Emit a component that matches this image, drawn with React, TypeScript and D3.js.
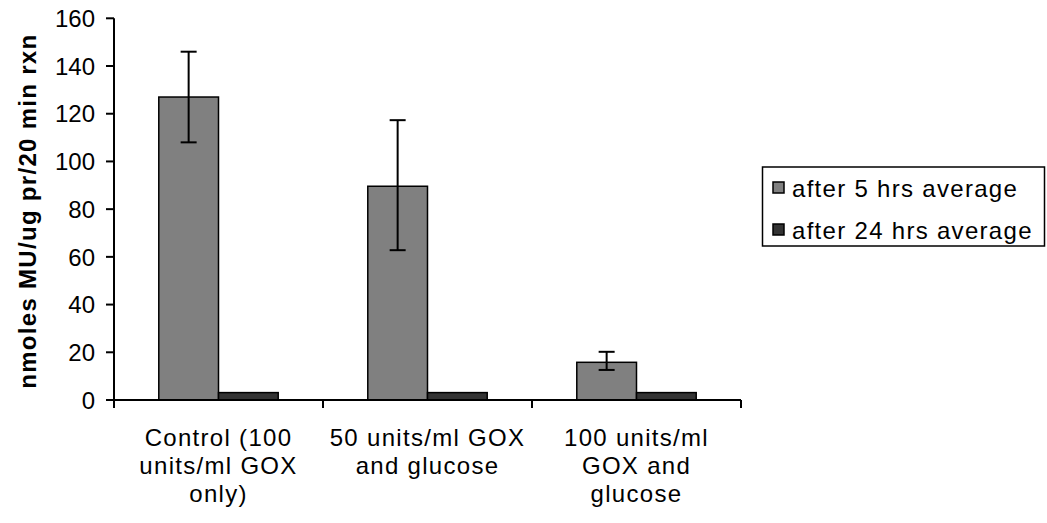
import React from "react";
import * as d3 from "d3";

const categories: string[][] = [
  ["Control (100", "units/ml GOX", "only)"],
  ["50 units/ml GOX", "and glucose"],
  ["100 units/ml", "GOX and", "glucose"],
];
const seriesNames = ["after 5 hrs average", "after 24 hrs average"];
const after5 = [127, 89.6, 15.8];
const after5ErrLow = [108, 62.8, 12.6];
const after5ErrHigh = [146, 117.3, 20.2];
const after24 = [3.1, 3.1, 3.1];
const yTicks = [0, 20, 40, 60, 80, 100, 120, 140, 160];
const colors = ["#808080", "#333333"];

const W = 1047;
const H = 523;
const left = 114;
const right = 741;
const top = 18.3;
const bottom = 400;
const FONT = "Liberation Sans, Arial, sans-serif";
const FS = 24;
const LS = 1.3;

export default function App() {
  const y = d3.scaleLinear().domain([0, 160]).range([bottom, top]);
  const x0 = d3.scaleBand<number>().domain(d3.range(categories.length)).range([left, right]).paddingInner(0).paddingOuter(0);
  const bw = x0.bandwidth() / 3.5;
  const x1 = d3.scaleBand<number>().domain([0, 1]).range([0.75 * bw, 2.75 * bw]);
  const series = [after5, after24];
  const capW = 16;

  return (
    <svg width={W} height={H} style={{ position: "absolute", left: 0, top: 0, background: "#fff" }}>
      <rect x={0} y={0} width={W} height={H} fill="#fff" />
      {series.map((vals, si) =>
        vals.map((v, ci) => (
          <rect
            key={`b${si}-${ci}`}
            x={x0(ci)! + x1(si)!}
            y={y(v)}
            width={x1.bandwidth()}
            height={bottom - y(v)}
            fill={colors[si]}
            stroke="#000"
            strokeWidth={1.5}
          />
        ))
      )}
      {after5.map((v, ci) => {
        const cx = x0(ci)! + x1(0)! + x1.bandwidth() / 2;
        return (
          <g key={`e${ci}`} stroke="#000" strokeWidth={2}>
            <line x1={cx} x2={cx} y1={y(after5ErrLow[ci])} y2={y(after5ErrHigh[ci])} />
            <line x1={cx - capW / 2} x2={cx + capW / 2} y1={y(after5ErrLow[ci])} y2={y(after5ErrLow[ci])} />
            <line x1={cx - capW / 2} x2={cx + capW / 2} y1={y(after5ErrHigh[ci])} y2={y(after5ErrHigh[ci])} />
          </g>
        );
      })}
      {/* y axis */}
      <line x1={left} x2={left} y1={top} y2={bottom} stroke="#000" strokeWidth={2} />
      {yTicks.map((t) => (
        <g key={`yt${t}`}>
          <line x1={left - 8} x2={left} y1={y(t)} y2={y(t)} stroke="#000" strokeWidth={2} />
          <text x={95} y={y(t)} dy="0.36em" textAnchor="end" fontFamily={FONT} fontSize={FS}>
            {t}
          </text>
        </g>
      ))}
      {/* x axis */}
      <line x1={left} x2={right} y1={bottom} y2={bottom} stroke="#000" strokeWidth={2} />
      {d3.range(categories.length + 1).map((i) => {
        const xx = i < categories.length ? x0(i)! : right;
        return <line key={`xt${i}`} x1={xx} x2={xx} y1={bottom} y2={bottom + 8} stroke="#000" strokeWidth={2} />;
      })}
      {categories.map((lines, ci) => (
        <text key={`xl${ci}`} textAnchor="middle" fontFamily={FONT} fontSize={FS} letterSpacing={LS}>
          {lines.map((ln, li) => (
            <tspan key={li} x={x0(ci)! + x0.bandwidth() / 2} y={446 + li * 28}>
              {ln}
            </tspan>
          ))}
        </text>
      ))}
      {/* y title */}
      <text
        transform={`translate(36, ${(top + bottom) / 2 + 2}) rotate(-90)`}
        textAnchor="middle"
        fontFamily={FONT}
        fontSize={FS}
        fontWeight="bold"
        letterSpacing={LS}
      >
        nmoles MU/ug pr/20 min rxn
      </text>
      {/* legend */}
      <rect x={762.5} y={167} width={282} height={79} fill="#fff" stroke="#000" strokeWidth={1.5} />
      {seriesNames.map((n, i) => (
        <g key={`lg${i}`}>
          <rect x={773} y={182 + i * 42} width={11} height={11} fill={colors[i]} stroke="#000" strokeWidth={1.5} />
          <text x={792} y={188 + i * 42} dy="0.36em" fontFamily={FONT} fontSize={FS} letterSpacing={LS}>
            {n}
          </text>
        </g>
      ))}
    </svg>
  );
}
